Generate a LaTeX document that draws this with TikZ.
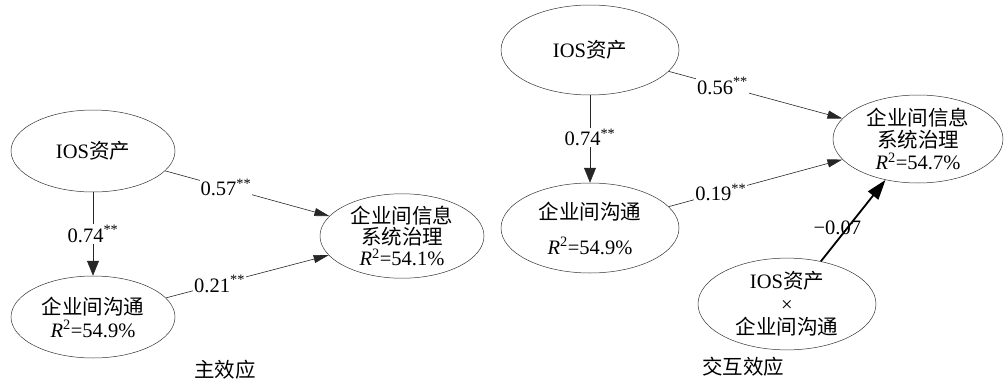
\documentclass[tikz,border=0pt]{standalone}
\usepackage{fontspec}
\setmainfont{Liberation Serif}
\newfontfamily\cjk{Noto Sans CJK SC}
\usetikzlibrary{shapes.geometric,arrows.meta}
\newcommand{\rsq}[1]{\textit{R}\textsuperscript{2}=#1\%}
\newcommand{\sig}[1]{#1\textsuperscript{**}}
\begin{document}
\begin{tikzpicture}[x=1pt,y=-1pt,
  ell/.style={draw=black!80, ellipse, line width=0.5pt, inner sep=0pt, align=center,
    font=\fontsize{20.5}{23}\selectfont},
  lab/.style={fill=white, inner sep=1pt, font=\fontsize{20.5}{23}\selectfont},
  plain/.style={inner sep=1pt, font=\fontsize{20.5}{23}\selectfont},
  conn/.style={draw=black!85, line width=0.6pt, -{Triangle[length=15pt,width=8pt]}},
  vconn/.style={draw=black!85, line width=0.6pt, -{Triangle[length=15pt,width=12pt]}},
  bconn/.style={draw=black, line width=1.8pt, -{Triangle[length=20pt,width=13pt]}}]
\useasboundingbox (0,0) rectangle (1005,383);
% left panel
\node[ell, minimum width=164pt, minimum height=82pt] (ios1) at (93,151) {IOS{\cjk 资产}};
\node[ell, minimum width=164pt, minimum height=82pt] (com1) at (93,317) {{\cjk 企业间沟通}\\[0pt]\rsq{54.9}};
\node[ell, minimum width=164pt, minimum height=78pt] (gov1) at (402,236) {{\cjk 企业间信息}\\[-2pt]{\cjk 系统治理}\\[-2pt]\rsq{54.1}};
\node[plain] (t1) at (225,370) {\cjk 主效应};
\draw[vconn] (ios1) -- node[lab, pos=0.5] {\sig{0.74}} (com1);
\draw[conn] (ios1) -- node[lab, pos=0.37] {\sig{0.57}} (gov1);
\draw[conn] (com1) -- node[lab, pos=0.33] {\sig{0.21}} (gov1);
% right panel
\node[ell, minimum width=178pt, minimum height=90pt] (ios2) at (590,50) {IOS{\cjk 资产}};
\node[ell, minimum width=178pt, minimum height=90pt] (com2) at (590,228) {{\cjk 企业间沟通}\\[12pt]\rsq{54.9}};
\node[ell, minimum width=170pt, minimum height=88pt] (gov2) at (918,139) {{\cjk 企业间信息}\\[-1pt]{\cjk 系统治理}\\[-1pt]\rsq{54.7}};
\node[ell, minimum width=178pt, minimum height=88pt] (int2) at (787,304) {IOS{\cjk 资产}\\[0pt]×\\[0pt]{\cjk 企业间沟通}};
\node[plain] (t2) at (743,367) {\cjk 交互效应};
\draw[vconn] (ios2) -- node[lab, pos=0.48] {\sig{0.74}} (com2);
\draw[conn] (ios2) -- node[lab, pos=0.31] {\sig{0.56}} (gov2);
\draw[conn] (com2) -- node[lab, pos=0.30] {\sig{0.19}} (gov2);
\draw[bconn] (int2) -- node[plain, pos=0.41, xshift=-10pt] {−0.07} (gov2);
\end{tikzpicture}
\end{document}
